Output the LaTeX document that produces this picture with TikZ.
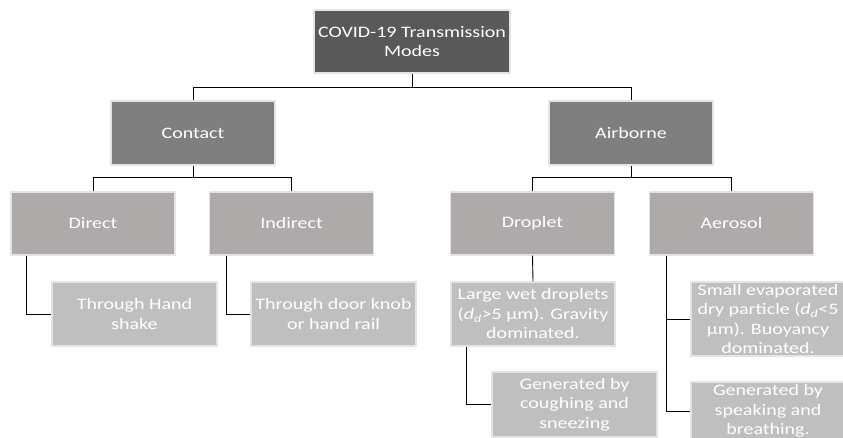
\documentclass[tikz,border=0pt]{standalone}
\usepackage{fontspec}
\setmainfont{Carlito}[FakeStretch=1.25]
\definecolor{lvA}{HTML}{595959}
\definecolor{lvB}{HTML}{7F7F7F}
\definecolor{lvC}{HTML}{AEAAAA}
\definecolor{lvD}{HTML}{BFBFBF}
\definecolor{edgeC}{HTML}{E4E4E4}
\tikzset{
  box/.style={rectangle, draw=edgeC, line width=1.2pt, inner sep=0pt, align=center,
    text=white, font=\fontsize{16}{19.5}\selectfont},
  boxA/.style={box, fill=lvA},
  boxB/.style={box, fill=lvB},
  boxC/.style={box, fill=lvC},
  boxD/.style={box, fill=lvD},
  link/.style={draw=black, line width=0.9pt}
}
\begin{document}
\begin{tikzpicture}[x=1pt,y=-1pt]
\useasboundingbox[fill=white] (0,0) rectangle (843,438);
\begin{scope}
\clip (0,0) rectangle (843,438);
\node[boxA, minimum width=196pt, minimum height=63pt] (top) at (412,41.5) {COVID-19 Transmission\\Modes};
\node[boxB, minimum width=164pt, minimum height=64pt] (contact) at (193,133) {Contact};
\node[boxB, minimum width=164pt, minimum height=64pt] (airborne) at (631,133) {Airborne};
\node[boxC, minimum width=164pt, minimum height=63pt] (direct) at (93,223.5) {Direct};
\node[boxC, minimum width=164pt, minimum height=63pt] (indirect) at (291.5,223.5) {Indirect};
\node[boxC, minimum width=164pt, minimum height=63pt] (droplet) at (532.5,223.5) {Droplet};
\node[boxC, minimum width=164pt, minimum height=63pt] (aerosol) at (731.5,223.5) {Aerosol};
\node[boxD, minimum width=165pt, minimum height=64pt] (hand) at (134.5,314) {Through Hand\\shake};
\node[boxD, minimum width=165pt, minimum height=64pt] (door) at (333.5,314) {Through door knob\\or hand rail};
\node[boxD, minimum width=164pt, minimum height=64pt] (large) at (533,314) {Large wet droplets\\(\textit{d}\textsubscript{\textit{d}}>5 μm). Gravity\\dominated.};
\node[boxD, minimum width=165pt, minimum height=65pt] (cough) at (574.5,404.5) {Generated by\\coughing and\\sneezing};
\node[boxD, minimum width=154pt, minimum height=74pt] (small) at (768,319) {Small evaporated\\dry particle (\textit{d}\textsubscript{\textit{d}}<5\\μm). Buoyancy\\dominated.};
\node[boxD, minimum width=154pt, minimum height=58pt] (speak) at (768,411) {Generated by\\speaking and\\breathing.};
\end{scope}
% level 1 -> 2
\coordinate (j1) at ([yshift=-14pt]top.south);
\draw[link] (top.south) -- (j1) -| (contact.north);
\draw[link] (j1) -| (airborne.north);
% level 2 -> 3
\coordinate (j2) at ([yshift=-12pt]contact.south);
\draw[link] (contact.south) -- (j2) -| (direct.north);
\draw[link] (j2) -| (indirect.north);
\coordinate (j3) at ([yshift=-12pt]airborne.south);
\draw[link] (airborne.south) -- (j3) -| (droplet.north);
\draw[link] (j3) -| (aerosol.north);
% level 3 -> 4
\draw[link] ([xshift=16pt]direct.south west) |- (hand.west);
\draw[link] ([xshift=18pt]indirect.south west) |- (door.west);
\draw[link] (droplet.south) -- (large.north);
\draw[link] ([xshift=16pt]large.south west) |- (cough.west);
\draw[link] ([xshift=18pt]aerosol.south west) |- (speak.west);
\coordinate (j4) at ([xshift=18pt]aerosol.south west |- small.west);
\draw[link] (j4) -- (small.west);
\end{tikzpicture}
\end{document}
